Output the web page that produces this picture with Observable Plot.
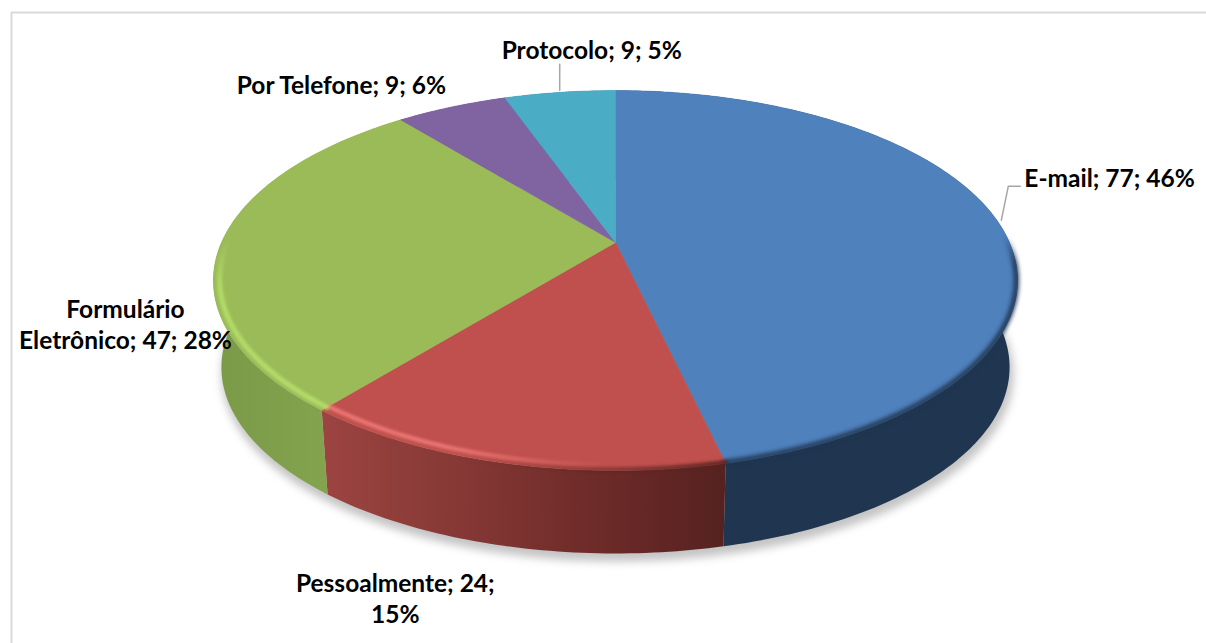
<!DOCTYPE html>
<html lang="pt">
<head>
<meta charset="utf-8">
<script src="https://cdn.jsdelivr.net/npm/d3@7"></script>
<script src="https://cdn.jsdelivr.net/npm/@observablehq/plot@0.6"></script>
<style>
html,body{margin:0;padding:0;background:#fff}
.b1{filter:blur(1.5px)} .b2{filter:blur(2px)} .b3{filter:blur(4px)}
</style>
</head>
<body>
<div id="chart"></div>
<script>
const categories = ["E-mail", "Pessoalmente", "Formulário Eletrônico", "Por Telefone", "Protocolo"];
const values = [77, 24, 47, 9, 9];
const percents = ["46%", "15%", "28%", "6%", "5%"];
const labelLines = [
  "E-mail; 77; 46%",
  "Pessoalmente; 24;\n15%",
  "Formulário\nEletrônico; 47; 28%",
  "Por Telefone; 9; 6%",
  "Protocolo; 9; 5%"
];
const faceColors = ["#4f81bd", "#c0504d", "#9bbb59", "#8064a2", "#4bacc6"];
const sideFills = ["#1f3550", "url(#sideRed)", "url(#sideGreen)", "#54426c", "#2f7184"];
// label offset from the slice's rim midpoint
const labelDx = [26, -110, -96, -110, 32];
const labelDy = [-45, 134, 81, -23, -43];
const labelAnchors = ["start", "middle", "middle", "middle", "middle"];

// perspective disc
const cx = 615, cy = 242, A = 394, B = 182.4, k = 0.2;
const drop = 87.5, bottomScale = 0.98;
function project(t, r = 1) {
  const u = r * Math.sin(t), v = r * Math.cos(t), w = 1 + k * v;
  return [cx + A * u / w, cy - B * v / w];
}
function arc(a0, a1, r = 1) {
  const n = Math.max(2, Math.ceil(Math.abs(a1 - a0) * 60));
  return d3.range(n + 1).map(i => project(a0 + (a1 - a0) * i / n, r));
}
function lowered(points, s = bottomScale, extra = 0, ex = 0) {
  return points.map(([x, y]) => [cx + (x - cx) * s + ex, cy + (y - cy) * s + drop + extra]);
}
const slices = d3.pie().sort(null)(values);
const deg = Math.PI / 180;
const X = d => d[0], Y = d => d[1];

const gradient = (id, vertical, stops) => () => {
  const g = d3.create("svg:linearGradient").attr("id", id)
    .attr("x1", 0).attr("y1", 0).attr("x2", vertical ? 0 : 1).attr("y2", vertical ? 1 : 0);
  stops.forEach(([o, c, a]) => g.append("stop").attr("offset", o).attr("stop-color", c).attr("stop-opacity", a ?? 1));
  return g.node();
};

const marks = [
  gradient("sideRed", false, [[0, "#9c4441"], [0.35, "#853835"], [0.7, "#6c2a28"], [1, "#552220"]]),
  gradient("sideGreen", false, [[0, "#7b9a48"], [0.65, "#84a44f"], [1, "#84a44f"]]),
  gradient("hlRed", false, [[0, "#ee7a76"], [0.35, "#ee7a76"], [0.85, "#ee7a76", 0]]),
  gradient("hlGreen", true, [[0, "#b7e06a", 0], [0.3, "#b7e06a", 0.9], [1, "#b7e06a", 0.9]]),
  gradient("edgeRed", false, [[0.35, "#5a2320", 0], [1, "#5a2320", 0.9]]),
  gradient("edgeBlue", true, [[0, "#1f3550", 0], [0.12, "#1f3550", 1], [1, "#1f3550", 1]]),
  // frame
  Plot.ruleY([12], {x1: 11, x2: 1206, stroke: "#d9d9d9", strokeWidth: 2}),
  Plot.ruleX([11], {y1: 12, y2: 643, stroke: "#d9d9d9", strokeWidth: 2}),
  // shadow
  Plot.line(lowered(arc(0, 2 * Math.PI), 0.985, 7, 2), {x: X, y: Y, fill: "#c4c4c4", stroke: "none", className: "b3"})
];

// side walls
slices.forEach((s, i) => {
  const top = arc(s.startAngle, s.endAngle);
  marks.push(Plot.line([...top, ...lowered(top).reverse()], {x: X, y: Y, fill: sideFills[i], stroke: "none"}));
});
// top faces
slices.forEach((s, i) => {
  const rim = arc(s.startAngle, s.endAngle);
  marks.push(Plot.line([[cx, cy], ...rim, [cx, cy]], {x: X, y: Y, fill: faceColors[i], stroke: faceColors[i], strokeWidth: 0.5}));
});
// bevels
marks.push(
  Plot.line(arc(slices[0].startAngle + 88 * deg, slices[0].endAngle, 0.997), {x: X, y: Y, stroke: "url(#edgeBlue)", strokeWidth: 5, className: "b2"}),
  Plot.line(arc(slices[1].startAngle, slices[1].endAngle, 0.997), {x: X, y: Y, stroke: "url(#edgeRed)", strokeWidth: 5, className: "b1"}),
  Plot.line(arc(slices[1].startAngle + 8 * deg, slices[1].endAngle, 0.98), {x: X, y: Y, stroke: "url(#hlRed)", strokeWidth: 4, className: "b1"}),
  Plot.line(arc(slices[2].startAngle, slices[2].startAngle + 52 * deg, 0.985), {x: X, y: Y, stroke: "url(#hlGreen)", strokeWidth: 5, className: "b1"})
);
// leader lines
const emailRim = project((slices[0].startAngle + slices[0].endAngle) / 2);
const protoRim = project((slices[4].startAngle + slices[4].endAngle) / 2);
marks.push(
  Plot.line([[emailRim[0] + 3, emailRim[1] - 2], [emailRim[0] + 10, emailRim[1] - 36], [emailRim[0] + 22, emailRim[1] - 36]],
    {x: X, y: Y, stroke: "#a6a6a6", strokeWidth: 1.5}),
  Plot.line([[protoRim[0], protoRim[1] - 2], [protoRim[0], protoRim[1] - 28]],
    {x: X, y: Y, stroke: "#a6a6a6", strokeWidth: 1.5})
);
// labels
slices.forEach((s, i) => {
  const p = project((s.startAngle + s.endAngle) / 2);
  marks.push(Plot.text([labelLines[i]], {
    x: () => p[0], y: () => p[1], text: d => d,
    dx: labelDx[i], dy: labelDy[i], textAnchor: labelAnchors[i],
    fontFamily: "Lato", fontWeight: "bold", fontSize: 24.5, lineHeight: 1.27, fill: "#000"
  }));
});

const chart = Plot.plot({
  width: 1206, height: 643,
  margin: 0,
  x: {domain: [0, 1206], range: [0, 1206], axis: null},
  y: {domain: [0, 643], range: [0, 643], axis: null},
  style: {background: "#fff"},
  marks
});
document.getElementById("chart").append(chart);
</script>
</body>
</html>
